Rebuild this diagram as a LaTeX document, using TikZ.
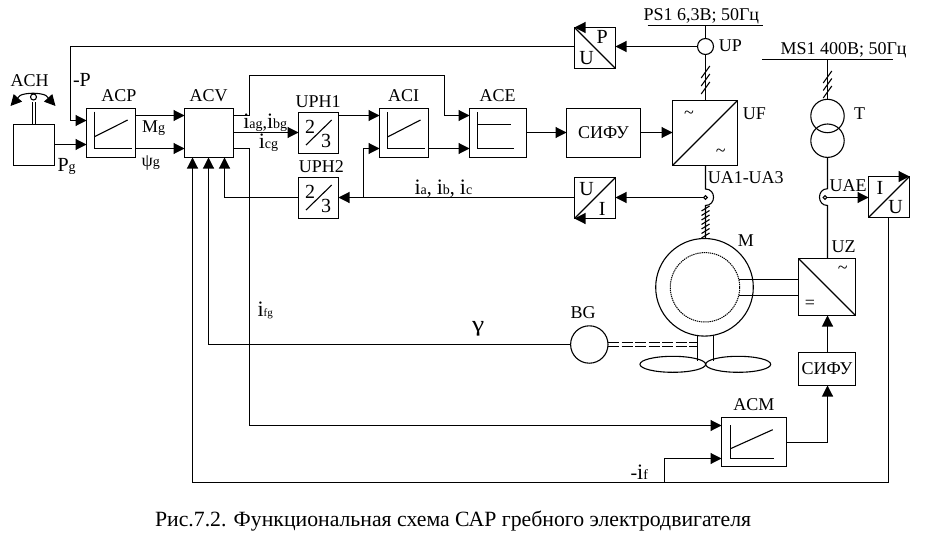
\documentclass[tikz,border=0pt]{standalone}
\usepackage{fontspec}
\setmainfont{Liberation Serif}
\usetikzlibrary{arrows.meta,shapes.geometric}
\newcommand\fsA{\fontsize{18}{19}\selectfont}
\newcommand\fsB{\fontsize{20}{20}\selectfont}
\newcommand\fsC{\fontsize{21.75}{22}\selectfont}
\newcommand\bi{{\fontsize{22}{22}\selectfont i}}
\newcommand\sm[1]{{\fontsize{14}{14}\selectfont #1}}
\newcommand\smm[1]{{\fontsize{11}{11}\selectfont #1}}
\newcommand\bx[6][]{\node[boxx,#1,minimum width={#5-#3},minimum height={#6-#4}] (#2) at ({(#3+#5)/2},{(#4+#6)/2}) {};}
\tikzset{
  >={Triangle[length=11pt,width=11pt]},
  boxx/.style={draw,inner sep=0pt,outer sep=0pt,font=\fsA},
  lab/.style={anchor=base west,inner sep=0pt,font=\fsA},
  labb/.style={anchor=base west,inner sep=0pt,font=\fsB},
  mid/.style={anchor=center,inner sep=0pt,font=\fsB},
  ring/.style={draw,circle,inner sep=0pt,outer sep=0pt},
}
\begin{document}
\begin{tikzpicture}[x=1pt,y=-1pt,line width=1.1pt]
\useasboundingbox (0,0) rectangle (929,538);
% boxes
\bx{ach}{13.5}{124.5}{54.5}{165.5}
\bx{acp}{86.5}{108.5}{135.5}{157.5}
\bx{acv}{184.5}{108.5}{233.5}{157.5}
\bx{uph1}{298.5}{112.5}{338.5}{153.5}
\bx{uph2}{298.5}{177.5}{338.5}{218.5}
\bx{aci}{379.5}{108.5}{428.5}{157.5}
\bx{ace}{469.5}{108.5}{526.5}{157.5}
\bx{sifu}{566.5}{108.5}{640.5}{157.5}
\bx{uf}{672.5}{100.5}{737.5}{165.5}
\bx{pu}{574.5}{27.5}{615.5}{68.5}
\bx{ui}{574.5}{177.5}{615.5}{218.5}
\bx{iu}{868.5}{176.5}{909.5}{217.5}
\bx{uz}{798.5}{258.5}{855.5}{315.5}
\bx{sifub}{798.5}{352.5}{855.5}{385.5}
\bx{acm}{721.5}{417.5}{786.5}{466.5}
\node[anchor=center,inner sep=0pt,font=\fsA] (sifut) at (sifu.center) {СИФУ};
\node[anchor=center,inner sep=0pt,font=\fsA] (sifubt) at (sifub.center) {СИФУ};
% circles
\node[ring,minimum size=16pt] (up) at (705.5,46.5) {};
\node[ring,minimum size=33.4pt] (t1) at (827.5,116) {};
\node[ring,minimum size=33.4pt] (t2) at (827.5,140.7) {};
\node[ring,minimum size=97.6pt] (m) at (704.5,287.3) {};
\node[ring,minimum size=69.4pt,line width=1pt,dash pattern=on 1.3pt off 0.8pt] (rotor) at (705,287.3) {};
\node[ring,minimum size=37.4pt] (bg) at (589.3,344.5) {};
\node[ring,minimum size=3.6pt] (sa) at (705.5,197.5) {};
\node[ring,minimum size=3.6pt] (se) at (825,197.5) {};
\node[draw,ellipse,inner sep=0pt,outer sep=0pt,minimum width=65.7pt,minimum height=16pt] (pl) at (672.8,364.3) {};
\node[draw,ellipse,inner sep=0pt,outer sep=0pt,minimum width=65pt,minimum height=16pt] (pr) at (738.2,364.3) {};
% bus coordinates
\coordinate (psl) at (647.7,25.5); \coordinate (psr) at (762.7,25.5); \coordinate (pst) at (705.5,25.5);
\coordinate (msl) at (762,59.5); \coordinate (msr) at (892.7,59.5); \coordinate (mst) at (827.5,59.5);
\draw (psl) -- (psr);
\draw (msl) -- (msr);
\draw (pst) -- (up.north);
\draw (up.south) -- (uf.north -| up.south);
\draw (mst) -- (t1.north);
% three-phase ticks
\foreach \y in {72,80,88} \draw (701.2,\y+6) -- (709.8,\y-6);
\foreach \y in {77,84.5,92} \draw (823.2,\y+6) -- (831.8,\y-6);
% ACH lever
\draw ([xshift=-1.9pt]ach.north) -- ([xshift=-1.9pt,yshift=23pt]ach.north);
\draw ([xshift=1.9pt]ach.north) -- ([xshift=1.9pt,yshift=23pt]ach.north);
\coordinate (lvl) at (10.5,106); \coordinate (lvr) at (55.5,106);
\coordinate (lval) at (20,95.5); \coordinate (lvar) at (46,95.5);
\draw (lval) .. controls (26,92.5) and (40,92.5) .. (lvar);
\draw[->] (lval) -- (lvl);
\draw[->] (lvar) -- (lvr);
\node[ring,minimum size=6pt,fill=white] (knob) at (33.5,97) {};
% graphs inside boxes
\draw (94.5,111.7) -- (94.5,148.5) -- (132,148.5);
\draw (94.5,136.7) -- (127.7,120);
\draw (387.5,112) -- (387.5,148.5) -- (425,148.5);
\draw (387.5,137) -- (420.5,120);
\draw (477.5,112) -- (477.5,148.5) -- (514,148.5);
\draw (477.5,124.5) -- (510.5,124.5);
\draw (730.5,425.3) -- (730.5,458.5) -- (774.3,458.5);
\draw (730.5,448.7) -- (772.7,429.7);
% diagonals
\draw (uf.south west) -- (uf.north east);
\draw (pu.north west) -- (pu.south east);
\draw (ui.south west) -- (ui.north east);
\draw (iu.south west) -- (iu.north east);
\draw (uz.north west) -- (uz.south east);
\draw (306,145) -- (331.7,120);
\draw (306,210) -- (331.7,185);
\draw[->] (pu.north) -- (pu.north west);
\draw[->] (ui.south) -- (ui.south west);
\draw[->] (iu.north) -- (iu.north east);
% connectors
\coordinate (pt) at (70.5,46.5);
\coordinate (pb) at (70.5,120.5);
\draw[->] (pu.west |- up.center) -- (pt |- up.center) -- (pb) -- (acp.west |- pb);
\draw[->] (ach.east |- 0,144.5) -- (acp.west |- 0,144.5);
\draw[->] (acp.east |- 0,115.5) -- (acv.west |- 0,115.5);
\draw[->] (acp.east |- 0,148.5) -- (acv.west |- 0,148.5);
\draw[->] (up.west) -- (pu.east |- up.west);
\coordinate (o1) at (249.5,115.5); \coordinate (o2) at (249.5,75.5); \coordinate (o3) at (444.5,75.5);
\draw[->] (acv.east |- o1) -- (o1) -- (o2) -- (o3) -- (444.5,115.5) -- (ace.west |- 0,115.5);
\draw[->] (acv.east |- 0,132.5) -- (uph1.west |- 0,132.5);
\coordinate (o4) at (249.5,148.5);
\draw[->] (acv.east |- o4) -- (o4) -- (249.5,425.5) -- (acm.west |- 0,425.5);
\draw[->] (uph1.east |- 0,115.5) -- (aci.west |- 0,115.5);
\draw[->] (aci.east |- 0,148.5) -- (ace.west |- 0,148.5);
\draw[->] (ace.east |- 0,132.5) -- (sifu.west |- 0,132.5);
\draw[->] (sifu.east |- 0,132.5) -- (uf.west |- 0,132.5);
\coordinate (br) at (363.5,197.5);
\draw[->] (ui.west |- br) -- (uph2.east |- br);
\draw[->] (br) -- (363.5,148.5) -- (aci.west |- 0,148.5);
\draw[->] (uph2.west |- br) -- (224.5,197.5) -- (224.5,157.5);
\draw[->] (bg.west) -- (208.5,344.5) -- (208.5,157.5);
\coordinate (fbr) at (888.5,482.5); \coordinate (fbl) at (192.5,482.5); \coordinate (fbj) at (664.5,482.5);
\draw[->] (iu.south -| fbr) -- (fbr) -- (fbl) -- (192.5,157.5);
\draw[->] (fbj) -- (664.5,458.5) -- (acm.west |- 0,458.5);
\coordinate (cm) at (827.5,442.5);
\draw[->] (acm.east |- cm) -- (cm) -- (sifub.south -| cm);
\draw[->] (sifub.north -| cm) -- (uz.south -| cm);
% sensors
\coordinate (ua1) at (705.5,189); \coordinate (ua2) at (705.5,205.5); \coordinate (ua3) at (705.5,238.5);
\draw (uf.south -| ua1) -- (ua1) .. controls (716.2,189) and (716.2,205.5) .. (ua2) -- (ua3);
\foreach \y in {208.5,213,217.5,222,226.5,231,235.5} \draw (701.5,\y+2.5) -- (709.5,\y-2.5);
\draw[->] (sa.west) -- (ui.east |- sa.west);
\coordinate (ue1) at (827.5,188.7); \coordinate (ue2) at (827.5,205.5);
\draw (t2.south) -- (ue1) .. controls (816.8,188.7) and (816.8,205.5) .. (ue2) -- (uz.north -| ue2);
\draw[->] (se.east) -- (iu.west |- se.east);
% motor links
\draw (738.7,279.5) -- (uz.west |- 0,279.5);
\draw (738.7,295.5) -- (uz.west |- 0,295.5);
\draw (697.5,334.5) -- (697.5,361);
\draw (713.5,334.5) -- (713.5,361);
\draw[dash pattern=on 11pt off 2.5pt] (bg.east |- 0,342.5) -- (696.5,342.5);
\draw[dash pattern=on 11pt off 2.5pt] (bg.east |- 0,346.5) -- (696.5,346.5);
% labels
\node[lab] (lach) at (10,86) {ACH};
\node[labb] (lp) at (72.5,86) {-P};
\node[lab] (lacp) at (100.8,101.7) {ACP};
\node[lab] (lacv) at (189,101.7) {ACV};
\node[lab] (lmg) at (141.5,132.3) {M\sm{g}};
\node[lab] (lpsi) at (141,166.7) {ψ\sm{g}};
\node[labb] (lpg) at (57,171) {P\sm{g}};
\node[lab] (liab) at (242.7,128.3) {\bi\sm{ag},\bi\sm{bg}};
\node[labb] (lic) at (258.3,148.3) {\bi\sm{cg}};
\node[lab] (luph1) at (295,107.7) {UPH1};
\node[lab] (luph2) at (298.3,172.7) {UPH2};
\node[lab] (laci) at (387.5,101.7) {ACI};
\node[lab] (lace) at (479,101.7) {ACE};
\node[labb] (liabc) at (414,194) {\bi\sm{a}, \bi\sm{b}, \bi\sm{c}};
\node[lab] (lup) at (718.2,51) {UP};
\node[lab] (luf) at (742.2,119) {UF};
\node[lab] (lt) at (853.5,119) {T};
\node[lab] (lps) at (643,20.7) {PS1 6,3В; 50Гц};
\node[lab] (lms) at (780,54.3) {MS1 400В; 50Гц};
\node[lab] (lua) at (707.2,183.7) {UA1-UA3};
\node[lab] (luae) at (829,191.7) {UAE};
\node[lab] (lm) at (737.2,246) {M};
\node[lab] (luz) at (831,252) {UZ};
\node[lab] (lbg) at (570,318.7) {BG};
\node[labb] (lif) at (257,316) {\bi\smm{fg}};
\node[labb,font=\fontsize{22}{22}\selectfont] (lgam) at (471.5,331) {\scalebox{1.25}[1]{γ}};
\node[lab] (lacm) at (732.8,410) {ACM};
\node[labb] (lnif) at (630,479) {-\bi\sm{f}};
\node[lab,font=\fsC] (lcap) at (154.5,526.7) {Рис.7.2. Функциональная схема САР гребного электродвигателя};
\node[mid] (tp) at (602.3,36.7) {P};
\node[mid] (tu) at (586.7,58.3) {U};
\node[mid] (tu2) at (586.7,189) {U};
\node[mid] (ti2) at (602.3,209) {I};
\node[mid] (ti3) at (880,188.3) {I};
\node[mid] (tu3) at (895.7,207.3) {U};
\node[mid] (t21) at (310,126.7) {2};
\node[mid] (t31) at (326,140.7) {3};
\node[mid] (t22) at (310,191.7) {2};
\node[mid] (t32) at (326,205.7) {3};
\node[mid,font=\fsA] (w1) at (689,115) {\~{}};
\node[mid,font=\fsA] (w2) at (720.7,152.7) {\~{}};
\node[mid,font=\fsA] (w3) at (842.7,269.3) {\~{}};
\node[mid,font=\fsA] (eq) at (810,304.7) {=};
\end{tikzpicture}
\end{document}
